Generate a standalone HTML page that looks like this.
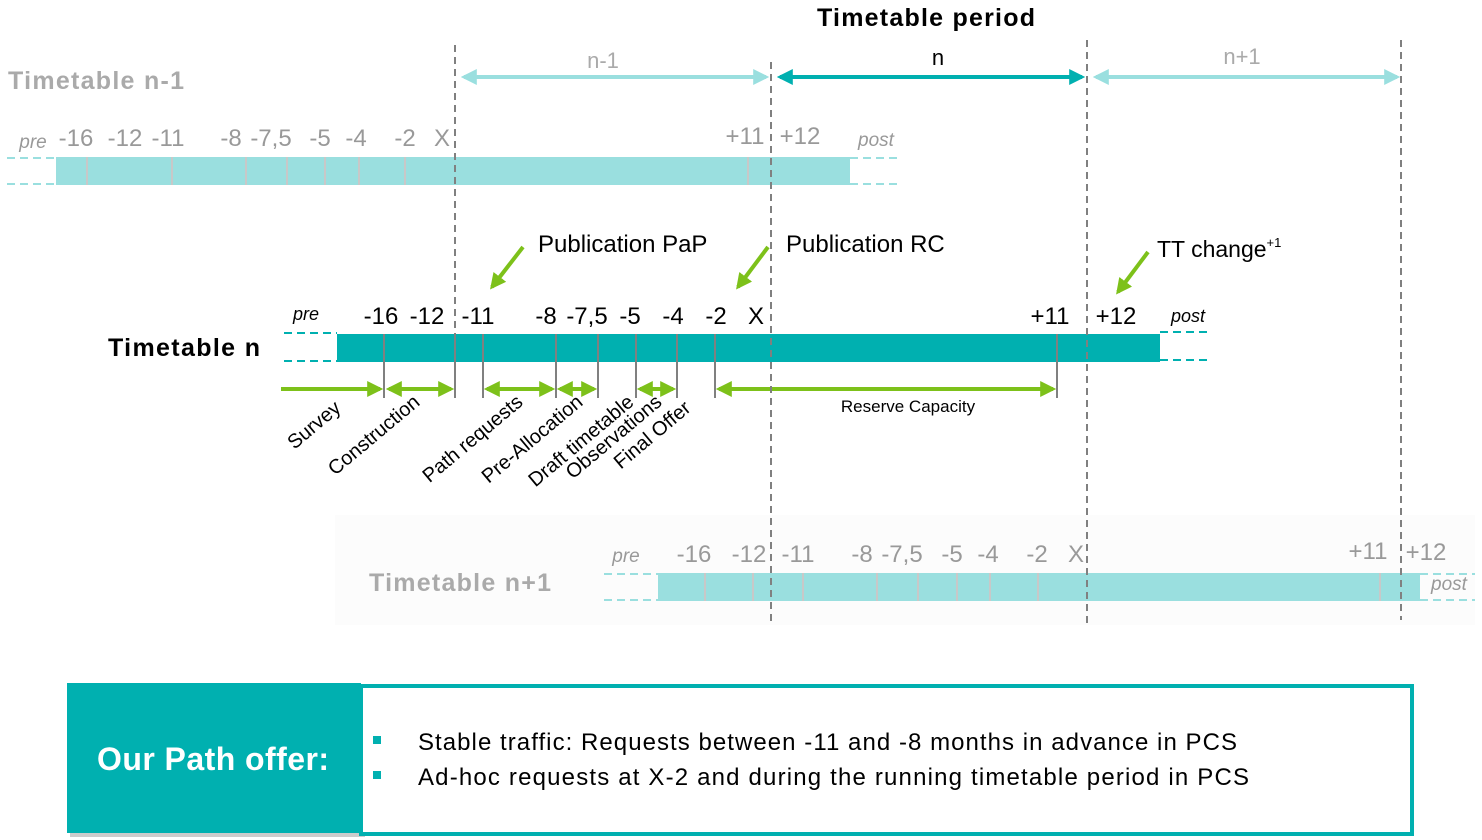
<!DOCTYPE html>
<html><head><meta charset="utf-8"><style>html,body{margin:0;padding:0;background:#fff}svg{display:block}text{font-family:"Liberation Sans",sans-serif}</style></head><body>
<svg width="1482" height="840" viewBox="0 0 1482 840" xmlns="http://www.w3.org/2000/svg">
<defs>
<marker id="ga" markerWidth="4" markerHeight="4" refX="3.2" refY="2" orient="auto-start-reverse" markerUnits="strokeWidth"><path d="M0,0 L4,2 L0,4 z" fill="#7dc11a"/></marker>
<marker id="la" markerWidth="4" markerHeight="4" refX="3.2" refY="2" orient="auto-start-reverse" markerUnits="strokeWidth"><path d="M0,0 L4,2 L0,4 z" fill="#9adfdf"/></marker>
<marker id="da" markerWidth="4" markerHeight="4" refX="3.2" refY="2" orient="auto-start-reverse" markerUnits="strokeWidth"><path d="M0,0 L4,2 L0,4 z" fill="#00b0b0"/></marker>
</defs>
<rect x="335" y="515" width="1140" height="110" fill="#fcfcfc"/>
<text x="926" y="26" font-size="25" font-weight="bold" text-anchor="middle" textLength="218">Timetable period</text>
<line x1="464" y1="77" x2="766" y2="77" stroke="#9adfdf" stroke-width="4" marker-start="url(#la)" marker-end="url(#la)"/>
<line x1="780" y1="77" x2="1082" y2="77" stroke="#00b0b0" stroke-width="4" marker-start="url(#da)" marker-end="url(#da)"/>
<line x1="1096" y1="77" x2="1397" y2="77" stroke="#9adfdf" stroke-width="4" marker-start="url(#la)" marker-end="url(#la)"/>
<text x="603" y="68" font-size="22" fill="#aaa" text-anchor="middle">n-1</text>
<text x="938" y="65" font-size="22" text-anchor="middle">n</text>
<text x="1242" y="64" font-size="22" fill="#aaa" text-anchor="middle">n+1</text>
<text x="8" y="89" font-size="25" font-weight="bold" fill="#aaa" textLength="176">Timetable n-1</text>
<rect x="56" y="157" width="794" height="28" fill="#9adfdf"/>
<g stroke="#c8c8c8" stroke-width="2"><line x1="87" y1="157" x2="87" y2="185"/><line x1="172" y1="157" x2="172" y2="185"/><line x1="246" y1="157" x2="246" y2="185"/><line x1="287" y1="157" x2="287" y2="185"/><line x1="325" y1="157" x2="325" y2="185"/><line x1="359" y1="157" x2="359" y2="185"/><line x1="405" y1="157" x2="405" y2="185"/><line x1="748" y1="157" x2="748" y2="185"/></g>
<g stroke="#9adfdf" stroke-width="2" stroke-dasharray="8,5"><line x1="7" y1="158" x2="56" y2="158"/><line x1="7" y1="184" x2="56" y2="184"/><line x1="850" y1="158" x2="900" y2="158"/><line x1="850" y1="184" x2="900" y2="184"/></g>
<g font-size="24" fill="#999" text-anchor="middle"><text x="76" y="146">-16</text><text x="125" y="146">-12</text><text x="168" y="146">-11</text><text x="231" y="146">-8</text><text x="271" y="146">-7,5</text><text x="320" y="146">-5</text><text x="356" y="146">-4</text><text x="405" y="146">-2</text><text x="442" y="146">X</text><text x="745" y="144">+11</text><text x="800" y="144">+12</text></g>
<text x="33" y="148" font-size="19" font-style="italic" fill="#999" text-anchor="middle">pre</text>
<text x="876" y="146" font-size="19" font-style="italic" fill="#999" text-anchor="middle">post</text>
<text x="108" y="356" font-size="25" font-weight="bold" textLength="152">Timetable n</text>
<rect x="337" y="334" width="823" height="28" fill="#00b0b0"/>
<g stroke="#00b0b0" stroke-width="2" stroke-dasharray="8,5"><line x1="284" y1="333" x2="337" y2="333"/><line x1="284" y1="361" x2="337" y2="361"/><line x1="1160" y1="332" x2="1212" y2="332"/><line x1="1160" y1="360" x2="1212" y2="360"/></g>
<g stroke="#808080" stroke-width="2"><line x1="384" y1="334" x2="384" y2="398"/><line x1="455" y1="334" x2="455" y2="398"/><line x1="483" y1="334" x2="483" y2="398"/><line x1="556" y1="334" x2="556" y2="398"/><line x1="598" y1="334" x2="598" y2="398"/><line x1="636" y1="334" x2="636" y2="398"/><line x1="677" y1="334" x2="677" y2="398"/><line x1="715" y1="334" x2="715" y2="398"/><line x1="1057" y1="334" x2="1057" y2="398"/></g>
<g font-size="24" text-anchor="middle"><text x="381" y="324">-16</text><text x="427" y="324">-12</text><text x="478" y="324">-11</text><text x="546" y="324">-8</text><text x="587" y="324">-7,5</text><text x="630" y="324">-5</text><text x="673" y="324">-4</text><text x="716" y="324">-2</text><text x="756" y="324">X</text><text x="1050" y="324">+11</text><text x="1116" y="324">+12</text></g>
<text x="306" y="320" font-size="18" font-style="italic" text-anchor="middle">pre</text>
<text x="1188" y="322" font-size="18" font-style="italic" text-anchor="middle">post</text>
<g stroke="#7dc11a" stroke-width="4">
<line x1="281" y1="389" x2="380" y2="389" marker-end="url(#ga)"/>
<line x1="389" y1="389" x2="451" y2="389" marker-start="url(#ga)" marker-end="url(#ga)"/>
<line x1="487" y1="389" x2="552" y2="389" marker-start="url(#ga)" marker-end="url(#ga)"/>
<line x1="560" y1="389" x2="594" y2="389" marker-start="url(#ga)" marker-end="url(#ga)"/>
<line x1="640" y1="389" x2="673" y2="389" marker-start="url(#ga)" marker-end="url(#ga)"/>
<line x1="719" y1="389" x2="1053" y2="389" marker-start="url(#ga)" marker-end="url(#ga)"/>
<line x1="523" y1="247" x2="492" y2="287" marker-end="url(#ga)"/>
<line x1="768" y1="247" x2="738" y2="287" marker-end="url(#ga)"/>
<line x1="1148" y1="252" x2="1118" y2="292" marker-end="url(#ga)"/>
</g>
<text x="908" y="412" font-size="17" text-anchor="middle">Reserve Capacity</text>
<g font-size="20" text-anchor="end">
<text transform="translate(342,410) rotate(-40)">Survey</text>
<text transform="translate(421,404) rotate(-40)">Construction</text>
<text transform="translate(524,404) rotate(-40)">Path requests</text>
<text transform="translate(584,404) rotate(-40)">Pre-Allocation</text>
<text transform="translate(635,404) rotate(-40)">Draft timetable</text>
<text transform="translate(663,404) rotate(-40)">Observations</text>
<text transform="translate(692,410) rotate(-40)">Final Offer</text>
</g>
<text x="538" y="252" font-size="24">Publication PaP</text>
<text x="786" y="252" font-size="24">Publication RC</text>
<text x="1157" y="257" font-size="23">TT change<tspan font-size="13" dy="-10">+1</tspan></text>
<text x="369" y="591" font-size="25" font-weight="bold" fill="#aaa" textLength="182">Timetable n+1</text>
<rect x="658" y="573" width="762" height="28" fill="#9adfdf"/>
<g stroke="#c8c8c8" stroke-width="2"><line x1="705" y1="573" x2="705" y2="601"/><line x1="753" y1="573" x2="753" y2="601"/><line x1="803" y1="573" x2="803" y2="601"/><line x1="877" y1="573" x2="877" y2="601"/><line x1="918" y1="573" x2="918" y2="601"/><line x1="957" y1="573" x2="957" y2="601"/><line x1="990" y1="573" x2="990" y2="601"/><line x1="1038" y1="573" x2="1038" y2="601"/><line x1="1380" y1="573" x2="1380" y2="601"/></g>
<g stroke="#9adfdf" stroke-width="2" stroke-dasharray="8,5"><line x1="604" y1="574" x2="658" y2="574"/><line x1="604" y1="600" x2="658" y2="600"/><line x1="1420" y1="574" x2="1475" y2="574"/><line x1="1420" y1="600" x2="1475" y2="600"/></g>
<g font-size="24" fill="#999" text-anchor="middle"><text x="694" y="562">-16</text><text x="749" y="562">-12</text><text x="798" y="562">-11</text><text x="862" y="562">-8</text><text x="902" y="562">-7,5</text><text x="952" y="562">-5</text><text x="988" y="562">-4</text><text x="1037" y="562">-2</text><text x="1076" y="562">X</text><text x="1368" y="559">+11</text><text x="1426" y="560">+12</text></g>
<text x="626" y="562" font-size="19" font-style="italic" fill="#999" text-anchor="middle">pre</text>
<text x="1449" y="590" font-size="19" font-style="italic" fill="#999" text-anchor="middle">post</text>
<g stroke="#808080" stroke-width="2" stroke-dasharray="7,5">
<line x1="455" y1="45" x2="455" y2="398"/>
<line x1="771" y1="62" x2="771" y2="625"/>
<line x1="1087" y1="40" x2="1087" y2="625"/>
<line x1="1401" y1="40" x2="1401" y2="620"/>
</g>
<rect x="70" y="687" width="295" height="150" fill="#ccc"/>
<rect x="67" y="683" width="294" height="150" fill="#00b0b0"/>
<rect x="361" y="686" width="1051" height="148" fill="#fff" stroke="#00b0b0" stroke-width="4"/>
<text x="213" y="770" font-size="32" font-weight="bold" fill="#fff" text-anchor="middle" textLength="232">Our Path offer:</text>
<rect x="373" y="736" width="8" height="8" fill="#00b0b0"/>
<rect x="373" y="771" width="8" height="8" fill="#00b0b0"/>
<text x="418" y="750" font-size="24" textLength="819">Stable traffic: Requests between -11 and -8 months in advance in PCS</text>
<text x="418" y="785" font-size="24" textLength="831">Ad-hoc requests at X-2 and during the running timetable period in PCS</text>
</svg>
</body></html>
